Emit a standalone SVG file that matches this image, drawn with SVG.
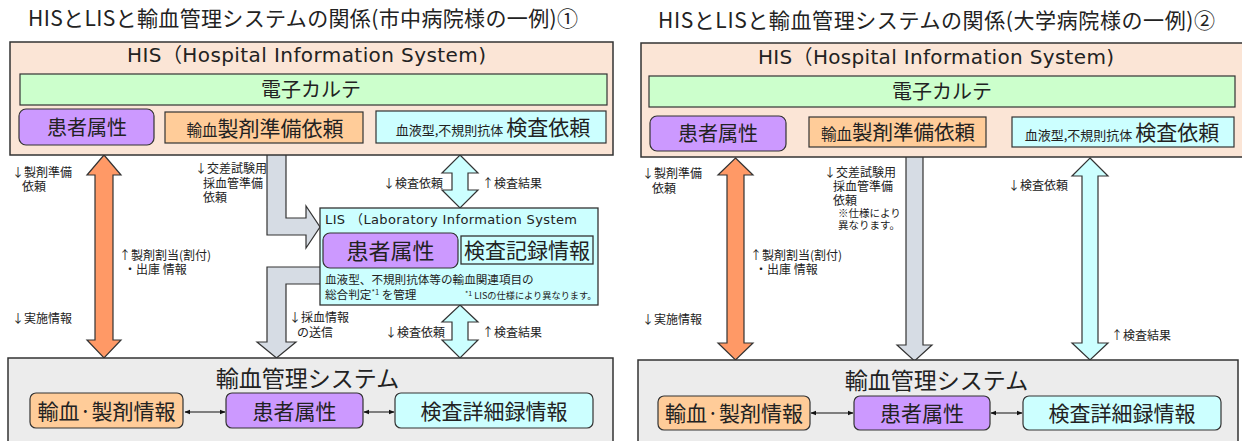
<svg xmlns="http://www.w3.org/2000/svg" width="1242" height="441" viewBox="0 0 1242 441">
<style>
text{font-family:"Noto Sans CJK JP","Noto Sans",sans-serif;fill:#222}
.lat{font-family:"DejaVu Sans","Noto Sans CJK JP",sans-serif}
.ttl{font-size:21px}
.his{fill:#fbe5d6;stroke:#333;stroke-width:1.5}
.mgmt{fill:#ececec;stroke:#333;stroke-width:1.5}
.emr{fill:#ccffcc;stroke:#333;stroke-width:1.2}
.pur{fill:#cc99ff;stroke:#333;stroke-width:1.2}
.org{fill:#ffcc99;stroke:#333;stroke-width:1.2}
.cyn{fill:#ccffff;stroke:#333;stroke-width:1.2}
.lis{fill:#ccffff;stroke:#333;stroke-width:1.3}
.a-org{fill:#ff9966;stroke:#333;stroke-width:1.2;stroke-linejoin:miter}
.a-gry{fill:#d6dce4;stroke:#333;stroke-width:1.2}
.a-cyn{fill:#ccffff;stroke:#333;stroke-width:1.2}
.lbl{font-size:12px}
.sm{font-size:10.5px}
.b20{font-size:20px}
.b21{font-size:21px}
.mid{text-anchor:middle}
.link{stroke:#111;stroke-width:1;fill:none;marker-start:url(#ah);marker-end:url(#ah)}
</style>
<defs>
<marker id="ah" viewBox="0 0 10 10" refX="9" refY="5" markerWidth="6" markerHeight="6" orient="auto-start-reverse" markerUnits="userSpaceOnUse">
<path d="M0,1 L10,5 L0,9 z" fill="#111"/>
</marker>
</defs>

<text id="title-left" class="ttl" x="28" y="26" textLength="550">HISとLISと輸血管理システムの関係(市中病院様の一例)①</text>
<text id="title-right" class="ttl" x="658" y="28" textLength="557">HISとLISと輸血管理システムの関係(大学病院様の一例)②</text>

<g id="connectors">
<polygon class="a-org" points="104,155 121,175 113,175 113,340 121,340 104,358 87,340 95,340 95,175 87,175"/>
<polygon class="a-gry" points="267,150 286,150 286,218 306,218 306,206 320,227 306,248 306,235 267,235"/>
<polygon class="a-gry" points="326,267 326,284 286,284 286,342 296,342 276.5,358 257,342 267,342 267,267"/>
<polygon class="a-cyn" points="460,155 478,173 468,173 468,190 478,190 460,208 442,190 452,190 452,173 442,173"/>
<polygon class="a-cyn" points="460,305 478,322 468,322 468,340 478,340 460,358 442,340 452,340 452,322 442,322"/>
<polygon class="a-org" points="735.5,158 753,175 744,175 744,343 753,343 735.5,360 718,343 727,343 727,175 718,175"/>
<polygon class="a-gry" points="906,150 923,150 923,345 932,345 914.5,361 897,345 906,345"/>
<polygon class="a-cyn" points="1090,158 1108,176 1098,176 1098,343 1108,343 1090,360 1072,343 1082,343 1082,176 1072,176"/>
</g>

<g id="labels-left">
<text class="lbl" x="12" y="177">↓製剤準備</text>
<text class="lbl" x="22" y="191">依頼</text>
<text class="lbl" x="119" y="260">↑製剤割当(割付)</text>
<text class="lbl" x="124" y="274">・出庫 情報</text>
<text class="lbl" x="12" y="322.5">↓実施情報</text>
<text class="lbl" x="195" y="173">↓交差試験用</text>
<text class="lbl" x="203" y="187.5">採血管準備</text>
<text class="lbl" x="203" y="202">依頼</text>
<text class="lbl" x="383" y="187.5">↓検査依頼</text>
<text class="lbl" x="482" y="187.5">↑検査結果</text>
<text class="lbl" x="289" y="322">↓採血情報</text>
<text class="lbl" x="297" y="336.5">の送信</text>
<text class="lbl" x="385" y="336.5">↓検査依頼</text>
<text class="lbl" x="482" y="336.5">↑検査結果</text>
</g>

<g id="labels-right">
<text class="lbl" x="642" y="178">↓製剤準備</text>
<text class="lbl" x="652" y="192.5">依頼</text>
<text class="lbl" x="824" y="177">↓交差試験用</text>
<text class="lbl" x="833" y="191">採血管準備</text>
<text class="lbl" x="833" y="205">依頼</text>
<text class="sm" x="838" y="216.5">※仕様により</text>
<text class="sm" x="838" y="228.5">異なります。</text>
<text class="lbl" x="750" y="259.5">↑製剤割当(割付)</text>
<text class="lbl" x="755" y="273.5">・出庫 情報</text>
<text class="lbl" x="642" y="323.5">↓実施情報</text>
<text class="lbl" x="1008" y="189.5">↓検査依頼</text>
<text class="lbl" x="1111" y="339.5">↑検査結果</text>
</g>

<g id="his-left">
<rect class="his" x="10" y="42" width="603" height="113"/>
<text class="lat mid" x="306.5" y="62" font-size="20" textLength="359">HIS（Hospital Information System)</text>
</g>
<g id="emr-left">
<rect class="emr" x="20" y="74" width="587" height="31"/>
<text class="b20 mid" x="311" y="97">電子カルテ</text>
</g>
<g id="his-patient-left">
<rect class="pur" x="19" y="109" width="135" height="36" rx="7"/>
<text class="b20 mid" x="87" y="134.5">患者属性</text>
</g>
<g id="his-prep-left">
<rect class="org" x="165" y="112" width="198" height="31"/>
<text class="mid" x="265" y="135.5"><tspan font-size="15.5">輸血</tspan><tspan font-size="21">製剤準備依頼</tspan></text>
</g>
<g id="his-test-left">
<rect class="cyn" x="376" y="111" width="230" height="32"/>
<text class="mid" x="493" y="135"><tspan font-size="13">血液型,不規則抗体 </tspan><tspan font-size="21">検査依頼</tspan></text>
</g>

<g id="lis-left">
<rect class="lis" x="320" y="208" width="278" height="97"/>
<text class="lat" x="325" y="224" font-size="13" textLength="252">LIS （Laboratory Information  System</text>
<text x="325" y="284" font-size="11.6">血液型、不規則抗体等の輸血関連項目の</text>
<text x="325" y="299" font-size="11.6">総合判定<tspan font-size="7.5" dy="-4">*1</tspan><tspan dy="4"> を管理</tspan></text>
<text x="465" y="299" font-size="9.2"><tspan font-size="7" dy="-3.5">*1</tspan><tspan dy="3.5"> LISの仕様により異なります。</tspan></text>
</g>
<g id="lis-patient-left">
<rect class="pur" x="323" y="233" width="135" height="35" rx="7"/>
<text class="mid" x="390.5" y="259" font-size="22">患者属性</text>
</g>
<g id="lis-record-left">
<rect class="lis" x="461" y="236" width="132" height="28" stroke-width="1.2"/>
<text class="b21 mid" x="527" y="258">検査記録情報</text>
</g>

<g id="mgmt-left">
<rect class="mgmt" x="8" y="358" width="605" height="100"/>
<text class="mid" x="307.5" y="387" font-size="23">輸血管理システム</text>
</g>
<g id="mgmt-blood-left">
<rect class="org" x="30" y="393" width="153" height="35" rx="6"/>
<text class="b21 mid" x="106.5" y="418.5">輸血·製剤情報</text>
</g>
<g id="mgmt-patient-left">
<rect class="pur" x="226" y="393" width="137" height="35" rx="6"/>
<text class="b21 mid" x="294.5" y="418.5">患者属性</text>
</g>
<g id="mgmt-test-left">
<rect class="cyn" x="395" y="393" width="198" height="35" rx="6"/>
<text class="b21 mid" x="494" y="418.5">検査詳細録情報</text>
</g>

<g id="his-right">
<rect class="his" x="641" y="43" width="604" height="114"/>
<text class="lat mid" x="936" y="64" font-size="20" textLength="356">HIS（Hospital Information System)</text>
</g>
<g id="emr-right">
<rect class="emr" x="649" y="76" width="586" height="31"/>
<text class="b20 mid" x="942" y="99">電子カルテ</text>
</g>
<g id="his-patient-right">
<rect class="pur" x="650" y="116" width="136" height="35" rx="7"/>
<text class="b20 mid" x="718" y="141">患者属性</text>
</g>
<g id="his-prep-right">
<rect class="org" x="809" y="117" width="177" height="30"/>
<text class="mid" x="898" y="140"><tspan font-size="15.5">輸血</tspan><tspan font-size="20.5">製剤準備依頼</tspan></text>
</g>
<g id="his-test-right">
<rect class="cyn" x="1012" y="117" width="222" height="30"/>
<text class="mid" x="1122" y="140"><tspan font-size="13">血液型,不規則抗体 </tspan><tspan font-size="21">検査依頼</tspan></text>
</g>

<g id="mgmt-right">
<rect class="mgmt" x="638" y="360" width="600" height="100"/>
<text class="mid" x="936.5" y="389" font-size="23">輸血管理システム</text>
</g>
<g id="mgmt-blood-right">
<rect class="org" x="658" y="396" width="152" height="34" rx="6"/>
<text class="b21 mid" x="734" y="421">輸血·製剤情報</text>
</g>
<g id="mgmt-patient-right">
<rect class="pur" x="854" y="396" width="136" height="34" rx="6"/>
<text class="b21 mid" x="922" y="421">患者属性</text>
</g>
<g id="mgmt-test-right">
<rect class="cyn" x="1023" y="396" width="198" height="34" rx="6"/>
<text class="b21 mid" x="1122" y="421">検査詳細録情報</text>
</g>

<g id="connectors-links">
<line class="link" x1="185" y1="412" x2="225" y2="412"/>
<line class="link" x1="364" y1="412" x2="394" y2="412"/>
<line class="link" x1="811" y1="413" x2="853" y2="413"/>
<line class="link" x1="991" y1="413" x2="1022" y2="413"/>
</g>
</svg>
